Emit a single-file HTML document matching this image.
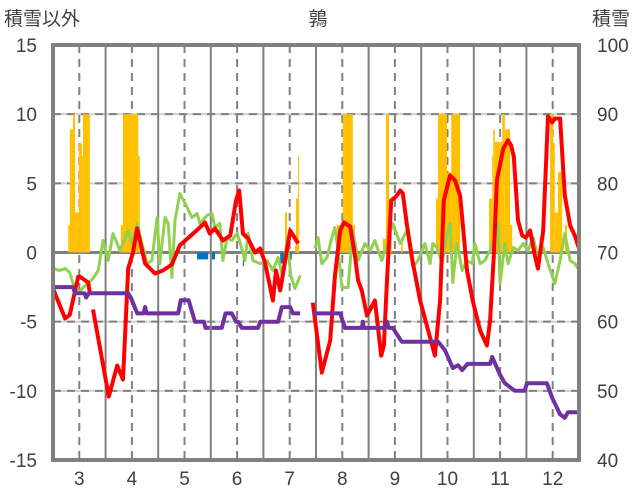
<!DOCTYPE html>
<html><head><meta charset="utf-8"><style>
html,body{margin:0;padding:0;background:#fff;}
svg{display:block;font-family:"Liberation Sans","Noto Sans CJK JP",sans-serif;}
</style></head><body>
<svg id="chart" width="636" height="501" viewBox="0 0 636 501" xmlns="http://www.w3.org/2000/svg">
<text x="318" y="25" font-size="19" text-anchor="middle" fill="#404040">鶉</text>
<text x="4" y="25" font-size="19" fill="#404040">積雪以外</text>
<text x="592" y="25" font-size="19" fill="#404040">積雪</text>
<g id="grid"></g><g id="bars"></g><g id="lines"></g><g id="axes"></g>
</svg>
<script>
const leftTicks=[15,10,5,0,-5,-10,-15];
const rightTicks=[100,90,80,70,60,50,40];
const months=[3,4,5,6,7,8,9,10,11,12];
const redT=[2.50,2.73,2.82,2.98,3.01,3.17,3.20,null,3.26,3.56,3.72,3.83,3.93,4.02,4.10,4.25,4.44,4.59,4.76,4.91,5.10,5.29,5.39,5.48,5.58,5.73,5.87,5.98,6.04,6.11,6.21,6.34,6.44,6.53,6.63,6.68,6.74,6.82,7.01,7.16,null,7.44,7.61,7.77,7.86,7.96,8.03,8.15,8.24,8.30,8.37,8.47,8.62,8.74,8.79,8.85,8.93,9.02,9.10,9.15,9.23,9.34,9.48,9.71,9.76,9.86,9.93,10.05,10.14,10.24,10.37,10.48,10.62,10.75,10.81,10.88,10.94,11.06,11.15,11.21,11.26,11.34,11.42,11.49,11.57,11.66,11.72,11.82,11.91,11.99,12.04,12.14,12.23,12.33,12.42,12.50];
const redV=[-2.6,-4.77,-4.5,-1.74,-1.74,-2.17,-2.89,null,-4.12,-10.41,-8.17,-9.18,-1.16,0,1.74,-0.8,-1.52,-1.30,-0.87,0.51,1.16,1.81,2.17,1.37,1.74,0.87,1.23,3.76,4.48,1.37,1.01,0.0,0.29,-0.72,-2.53,-3.47,-1.30,-2.75,1.59,0.65,null,-3.62,-8.68,-6.36,-1.74,1.59,2.17,1.88,-0.22,-2.02,-2.75,-4.56,-3.47,-7.45,-6.72,-2.02,3.76,4.05,4.48,4.27,1.95,-0.72,-3.47,-6.72,-7.45,-3.47,3.76,5.57,5.21,4.12,-1.30,-3.47,-5.64,-6.72,-4.92,-0.22,5.21,7.52,8.10,7.74,6.94,2.31,1.23,1.08,1.59,-0.22,-1.16,1.59,9.83,9.40,9.69,9.69,4.12,1.95,1.23,0.29];
const greenT=[2.50,2.63,2.73,2.82,2.88,2.98,3.11,3.26,3.36,3.45,3.55,3.64,3.72,3.77,3.93,4.00,4.10,4.19,4.29,4.38,4.48,4.53,4.63,4.69,4.76,4.82,4.91,5.05,5.14,5.24,5.29,5.43,5.52,5.58,5.67,5.73,5.81,5.90,6.00,6.06,6.15,6.21,6.30,6.44,6.57,6.68,6.78,6.87,6.95,7.02,7.10,7.20,null,7.48,7.54,7.61,7.71,7.80,7.86,7.92,7.99,8.11,8.20,8.30,8.43,8.53,8.62,8.75,8.87,8.96,9.10,9.23,9.34,9.44,9.57,9.67,9.72,9.80,9.90,9.99,10.05,10.10,10.18,10.28,10.37,10.47,10.52,10.62,10.71,10.81,10.90,10.96,11.00,11.09,11.15,11.25,11.34,11.44,11.53,11.63,11.72,11.82,11.91,12.04,12.14,12.23,12.33,12.42,12.48];
const greenV=[-1.16,-1.30,-1.16,-1.45,-2.24,-2.9,-2.4,-1.88,-1.30,0.87,-0.58,1.37,0.65,0.14,1.59,0.65,2.10,0.65,-0.80,-0.58,2.53,-0.80,2.53,2.10,-1.81,2.31,4.27,3.25,2.53,2.82,2.10,2.68,2.82,1.81,2.10,-0.58,1.08,0.87,1.37,0.65,-0.58,1.37,-0.58,-0.80,-0.58,-1.30,-0.36,-1.81,1.08,-1.66,-2.60,-1.66,null,0.29,1.08,-0.80,-0.36,1.08,1.81,0.14,-2.53,-2.53,1.59,-0.58,0.65,0.14,0.87,-0.58,0.87,2.10,0.65,1.59,-1.08,-0.58,0.65,-0.80,0.65,0.36,-0.80,1.37,2.10,-2.17,0.65,-1.30,-0.58,-0.80,0.65,-0.80,-0.58,0.14,1.08,2.10,-2.24,0.65,-0.80,0.36,0.14,0.65,0.14,1.08,-0.36,0.36,-0.80,-2.24,-0.58,1.37,-0.58,-0.80,-1.16];
const purpleT=[2.50,2.88,2.92,3.10,3.13,3.18,3.93,3.98,4.10,4.22,4.25,4.28,4.88,4.93,5.08,5.12,5.20,5.37,5.40,5.48,null,5.52,5.71,5.78,5.90,5.98,6.02,6.09,6.40,6.44,6.78,6.85,6.87,7.01,7.06,7.20,null,7.44,7.96,8.05,8.37,8.39,8.41,8.81,8.85,8.88,8.96,9.13,9.82,9.95,10.10,10.20,10.28,10.38,10.81,10.85,11.00,11.09,11.28,11.47,11.51,11.89,11.99,12.14,12.23,12.29,12.50];
const purpleV=[65,65,64.1,64.1,63.5,64.1,64.1,63.5,61.2,61.2,62.1,61.2,61.2,63.1,63.1,62,60,60,59.1,59.1,null,59.1,59.1,61.2,61.2,60,60,59.1,59.1,60,60,62.1,62.1,62.1,61.2,61.2,null,61.2,61.2,59.1,59.1,60,59.1,59.1,60,59.1,59.1,57.1,57.1,55.9,53.3,53.7,53.0,53.9,53.9,54.9,52.3,51.1,50.0,50.0,51.1,51.1,49.0,46.6,46.1,46.9,46.9];
const ybarStart=[2.79,2.82,2.88,2.92,2.99,3.05,3.07,3.79,3.83,4.12,6.91,7.10,7.12,7.16,7.90,8.01,8.20,8.77,8.83,8.89,9.12,9.78,9.82,9.99,10.07,10.79,10.85,10.87,10.90,11.04,11.09,11.19,11.95,12.01,12.04,12.10,12.23];
const ybarEnd=[2.82,2.88,2.92,2.99,3.05,3.07,3.20,3.83,4.12,4.15,6.95,7.12,7.16,7.18,8.01,8.20,8.24,8.83,8.89,8.94,9.15,9.82,9.99,10.07,10.24,10.85,10.87,10.90,11.04,11.09,11.19,11.23,12.01,12.04,12.10,12.18,12.27];
const ybarV=[2.0,8.9,10,2.9,7.9,7.0,10,2.0,10,7.0,2.9,0.5,3.9,7.0,2.0,10,2.0,1.0,10,3.9,1.0,3.9,10,5.8,10,3.9,7.0,8.9,8.0,10,8.9,2.0,10,7.9,2.9,5.8,2.0];
const bbarStart=[5.24,5.52,6.11,6.82,6.97];
const bbarEnd=[5.45,5.58,6.13,6.91,7.04];
const bbarV=[-0.5,-0.5,-1.0,-0.8,-0.5];

const L=53,R=579,T=45,B=460;
const X=t=>L+(t-2.5)*(R-L)/10;
const YL=v=>B-(v+15)*(B-T)/30;
const YR=v=>B-(v-40)*(B-T)/60;
const NS='http://www.w3.org/2000/svg';
function mk(tag,parent,attrs){const e=document.createElementNS(NS,tag);for(const k in attrs)e.setAttribute(k,attrs[k]);parent.appendChild(e);return e;}
const grid=document.getElementById('grid'),bars=document.getElementById('bars'),lines=document.getElementById('lines'),axes=document.getElementById('axes');

leftTicks.forEach(v=>{
  if(v!==15&&v!==-15&&v!==0){
    const g=mk('line',grid,{x1:L,x2:R,y1:YL(v),y2:YL(v),stroke:'#d0d0d0','stroke-width':2});
    
    
    const d=mk('line',grid,{x1:L,x2:R,y1:YL(v),y2:YL(v),stroke:'#808080','stroke-width':2,'stroke-dasharray':'8 6'});
    
    
  }
  const t=mk('text',axes,{x:37,y:YL(v)+7,'font-size':19,'text-anchor':'end',fill:'#404040'});
  t.textContent=v;
  
  
});
rightTicks.forEach(v=>{
  const t=mk('text',axes,{x:597,y:YR(v)+7,'font-size':19,fill:'#404040'});
  t.textContent=v;
  
  
});
months.forEach((m,i)=>{
  const cx=X(m);
  const d=mk('line',grid,{x1:cx,x2:cx,y1:T,y2:B,stroke:'#808080','stroke-width':2,'stroke-dasharray':'8 6'});
  
  
  if(i>0){
    const s=mk('line',grid,{x1:X(m-0.5),x2:X(m-0.5),y1:T,y2:B,stroke:'#808080','stroke-width':2});
    
    
  }
  const t=mk('text',axes,{x:cx,y:485,'font-size':19,'text-anchor':'middle',fill:'#404040'});
  t.textContent=m;
  
  
});
const z=mk('line',grid,{x1:L,x2:R,y1:YL(0),y2:YL(0),stroke:'#808080','stroke-width':3});



ybarV.forEach((v,i)=>{
  const r=mk('rect',bars,{x:X(ybarStart[i]),width:Math.max(1,X(ybarEnd[i])-X(ybarStart[i])),y:YL(v),height:YL(0)-YL(v),fill:'#ffc000'});
  
  
});
bbarV.forEach((v,i)=>{
  const r=mk('rect',bars,{x:X(bbarStart[i]),width:Math.max(1,X(bbarEnd[i])-X(bbarStart[i])),y:YL(0),height:YL(v)-YL(0),fill:'#0070c0'});
  
  
});
function path(ts,vs,Y){let d='',pen=false;ts.forEach((t,i)=>{if(t===null||vs[i]===null){pen=false;return;}d+=(pen?'L':'M')+X(t).toFixed(1)+' '+Y(vs[i]).toFixed(1);pen=true;});return d;}
const gp=mk('path',lines,{d:path(greenT,greenV,YL),fill:'none',stroke:'#92d050','stroke-width':3,'stroke-linejoin':'round'});


const rp=mk('path',lines,{d:path(redT,redV,YL),fill:'none',stroke:'#ff0000','stroke-width':4,'stroke-linejoin':'round'});


const pp=mk('path',lines,{d:path(purpleT,purpleV,YR),fill:'none',stroke:'#7030a0','stroke-width':4,'stroke-linejoin':'round'});


const fr=mk('rect',axes,{x:L,y:T,width:R-L,height:B-T,fill:'none',stroke:'#808080','stroke-width':4});


</script>
</body></html>
